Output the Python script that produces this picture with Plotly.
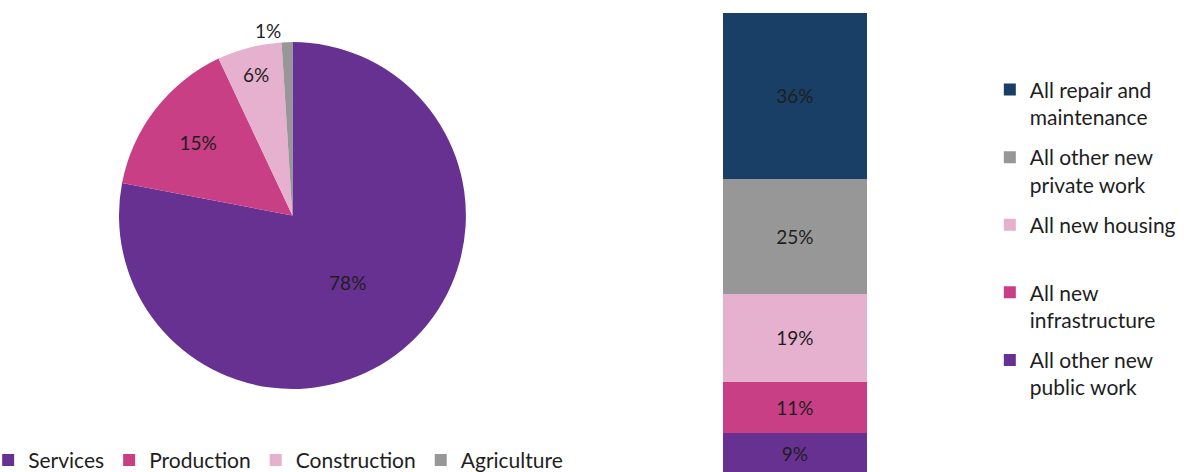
import plotly.graph_objects as go

# Pie data
sector_labels = ["Services", "Production", "Construction", "Agriculture"]
sector_values = [78, 15, 6, 1]
sector_colors = ["#673192", "#C83F86", "#E6B1CE", "#979797"]

# Stacked bar data (bottom to top)
work_names = ["All other new<br>public work", "All new<br>infrastructure", "All new housing<br>&nbsp;",
              "All other new<br>private work", "All repair and<br>maintenance"]
work_values = [9, 11, 19, 25, 36]
work_colors = ["#673192", "#C83F86", "#E6B1CE", "#979797", "#1A3F66"]

FONT = "Lato"
TXT = "#1e1e1e"

fig = go.Figure()

fig.add_trace(go.Pie(
    labels=sector_labels, values=sector_values,
    marker=dict(colors=sector_colors, line=dict(color="white", width=0)),
    sort=False, direction="clockwise", rotation=0,
    texttemplate="%{value}%", textinfo="text",
    textposition=["inside", "inside", "inside", "outside"],
    insidetextorientation="horizontal",
    textfont=dict(family=FONT, size=19, color=TXT),
    domain=dict(x=[0.1005, 0.3935], y=[0.1758, 0.911]),
    legend="legend", hoverinfo="label+value",
))

n = len(work_names)
for i, (name, val, col) in enumerate(zip(work_names, work_values, work_colors)):
    fig.add_trace(go.Bar(
        x=["Work"], y=[val], name=name,
        marker=dict(color=col, line=dict(width=0)),
        text=[f"{val}%"], textposition="inside", insidetextanchor="middle",
        textangle=0, constraintext="none",
        textfont=dict(family=FONT, size=19, color=TXT),
        xaxis="x", yaxis="y", legend="legend2", legendgroup=f"g{i}",
        legendrank=1000 + (n - i),
    ))

fig.update_layout(
    width=1184, height=472,
    margin=dict(l=0, r=0, t=0, b=0, autoexpand=False),
    paper_bgcolor="white", plot_bgcolor="white",
    font=dict(family=FONT, size=21, color=TXT),
    barmode="stack", bargap=0,
    xaxis=dict(domain=[0.6106, 0.7323], visible=False, range=[-0.5, 0.5]),
    yaxis=dict(domain=[0, 0.9725], visible=False, range=[0.43, 100]),
    legend=dict(orientation="h", x=-0.010, y=-0.019, xanchor="left", yanchor="bottom",
                font=dict(family=FONT, size=21, color=TXT), itemwidth=30,
                bgcolor="rgba(0,0,0,0)"),
    legend2=dict(orientation="v", x=0.836, y=0.853, xanchor="left", yanchor="top",
                 traceorder="grouped", itemwidth=30, tracegroupgap=10,
                 valign="top",
                 font=dict(family=FONT, size=21, color=TXT),
                 bgcolor="rgba(0,0,0,0)"),
)

fig.write_html("out.html", config={"displayModeBar": False})

with open("out.html", "r", encoding="utf-8") as f:
    html = f.read()
html = html.replace("<head>", "<head><style>html,body{margin:0;padding:0;overflow:hidden;}</style>", 1)
with open("out.html", "w", encoding="utf-8") as f:
    f.write(html)
